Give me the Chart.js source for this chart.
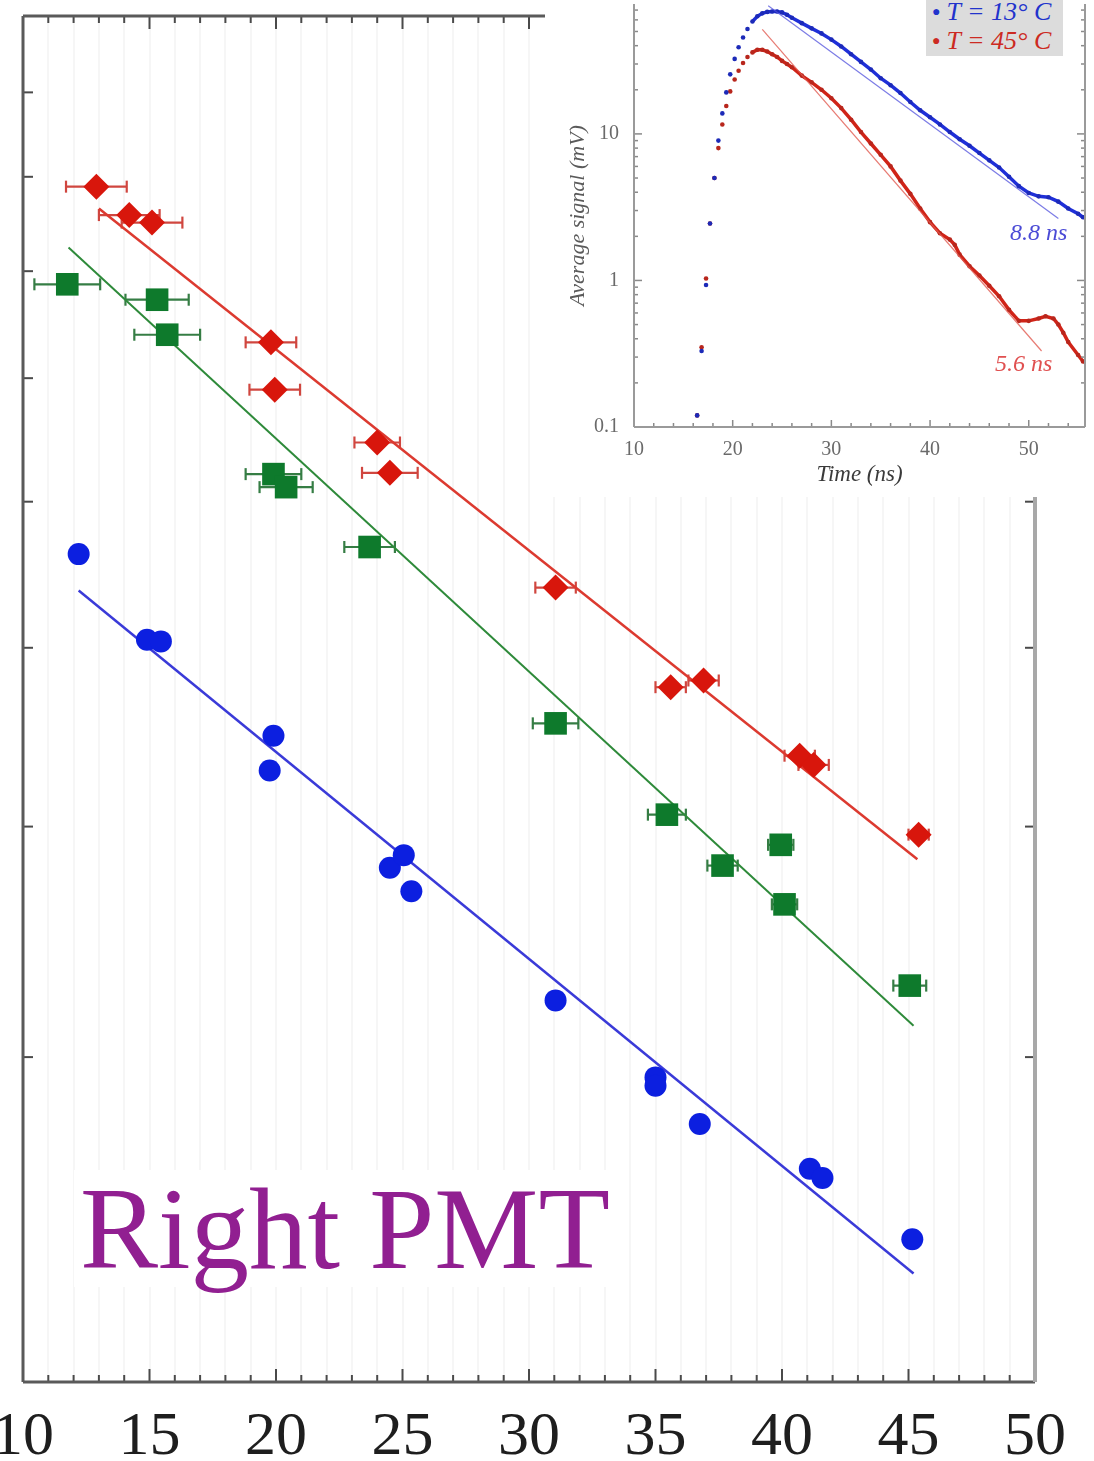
<!DOCTYPE html>
<html>
<head>
<meta charset="utf-8">
<script src="https://cdn.jsdelivr.net/npm/chart.js@4.4.1/dist/chart.umd.min.js"></script>
<style>
  html, body { margin: 0; padding: 0; background: #fff; }
  #wrap { position: relative; width: 1094px; height: 1461px; overflow: hidden; background: #fff; }
  #main { position: absolute; left: 0; top: 0; }
  #inset { position: absolute; left: 545px; top: 0; background: #fff; }
  #tag {
    position: absolute; left: 74px; top: 1170px;
    font-family: "Liberation Serif", serif; font-size: 117px; line-height: 117px;
    color: #911f91; background: #fff; padding: 0 6px; white-space: nowrap;
  }
  #legend {
    position: absolute; left: 926px; top: 0; width: 137px; height: 56px;
    background: #dcdcdc; font-family: "Liberation Serif", serif; font-style: italic;
    font-size: 26px; line-height: 28px;
  }
  #legend div { position: absolute; left: 6px; white-space: nowrap; }
  #legend .dot { font-style: normal; font-size: 14px; vertical-align: 4px; margin-right: 6px; }
  .note { position: absolute; font-family: "Liberation Serif", serif; font-style: italic; font-size: 24px; white-space: nowrap; }
</style>
</head>
<body>
<div id="wrap">
  <canvas id="main" width="1094" height="1461"></canvas>
  <div id="tag">Right PMT</div>
  <canvas id="inset" width="549" height="497"></canvas>
  <div id="legend">
    <div style="top:-2px;color:#2233cc"><span class="dot">&#9679;</span>T = 13° C</div>
    <div style="top:27px;color:#cc2a22"><span class="dot">&#9679;</span>T = 45° C</div>
  </div>
  <div class="note" style="left:1010px;top:219px;color:#4a4ad6">8.8 ns</div>
  <div class="note" style="left:995px;top:350px;color:#e05050">5.6 ns</div>
</div>
<script>
// ---- main plot: decay time vs temperature ----
const redX = [12.9, 14.2, 15.1, 19.8, 19.95, 24.0, 24.5, 31.05, 35.6, 36.9, 40.7, 41.25, 45.4];
const redY = [8.89, 8.58, 8.50, 7.32, 6.90, 6.46, 6.22, 5.39, 4.76, 4.80, 4.37, 4.32, 3.96];
const redXErr = [1.2, 1.2, 1.2, 1.0, 1.0, 0.9, 1.1, 0.8, 0.6, 0.6, 0.6, 0.6, 0.4];

const greenX = [11.75, 15.3, 15.7, 19.9, 20.4, 23.7, 31.05, 35.45, 37.65, 39.95, 40.1, 45.05];
const greenY = [7.87, 7.72, 7.39, 6.21, 6.11, 5.67, 4.55, 4.06, 3.81, 3.91, 3.63, 3.28];
const greenXErr = [1.3, 1.25, 1.3, 1.1, 1.05, 1.0, 0.9, 0.75, 0.6, 0.5, 0.5, 0.65];

const blueX = [12.2, 14.9, 15.45, 19.9, 19.75, 24.5, 25.05, 25.35, 31.05, 35.0, 35.0, 36.75, 41.1, 41.6, 45.15];
const blueY = [5.62, 5.05, 5.04, 4.48, 4.29, 3.80, 3.86, 3.69, 3.22, 2.925, 2.895, 2.76, 2.61, 2.58, 2.39];

// straight-line fits (exponential on the log axis)
const redFitX = [13.0, 45.35];
const redFitY = [8.65, 3.84];
const greenFitX = [11.8, 45.2];
const greenFitY = [8.24, 3.12];
const blueFitX = [12.2, 45.2];
const blueFitY = [5.37, 2.29];

const xTickLabels = [10, 15, 20, 25, 30, 35, 40, 45, 50];
const yTickValues = [3, 4, 5, 6, 7, 8, 9, 10];

// ---- inset: average pulse shape ----
const t13 = [16.4, 16.85, 17.3, 17.7, 18.15, 18.55, 18.95, 19.35, 19.75, 20.2, 20.6, 21.05, 21.5, 22.0, 22.5, 23.0,
  23.5, 24, 24.5, 25, 25.5, 26, 27, 28, 29, 30, 31, 32, 33, 34, 35, 36, 37, 38, 39, 40, 41, 42, 43, 44, 45,
  46, 47, 48, 49, 50, 51, 52, 53, 54, 55, 55.5];
const v13 = [0.12, 0.33, 0.93, 2.45, 5.0, 9.0, 13.8, 19.2, 25.5, 32.5, 39, 45.5, 52, 58.5, 63.5, 66.5,
  68, 68.5, 68.5, 67.5, 65, 62, 57, 52.5, 48.5, 44, 39.5, 35, 31, 27.5, 24, 21.5, 19, 16.5, 14.5, 13, 11.6, 10.3, 9.2, 8.3, 7.4,
  6.6, 5.9, 5.1, 4.4, 3.95, 3.75, 3.7, 3.45, 3.1, 2.85, 2.7];

const t45 = [16.4, 16.85, 17.3, 17.7, 18.15, 18.55, 18.95, 19.35, 19.75, 20.2, 20.6, 21.05, 21.5, 22.0, 22.5, 23.0,
  23.5, 24, 24.5, 25, 25.5, 26, 27, 28, 29, 30, 31, 32, 33, 34, 35, 36, 37, 38, 39, 40, 41, 42, 42.5, 43, 44, 45,
  46, 47, 48, 49, 50, 51, 51.7, 52.5, 53, 53.5, 54, 55, 55.5];
const v45 = [0.12, 0.35, 1.03, 2.45, 5.0, 8.0, 11.6, 15.5, 19.5, 23.5, 27, 30.5, 33.5, 36, 37.5, 37.5,
  36.5, 35, 33.5, 31.5, 30, 28.5, 25, 22.5, 20, 17.5, 15, 12.5, 10.3, 8.6, 7.2, 6.0, 4.8, 3.9, 3.1, 2.5, 2.1, 1.9, 1.75, 1.5, 1.25, 1.08,
  0.92, 0.78, 0.63, 0.53, 0.53, 0.55, 0.57, 0.55, 0.5, 0.44, 0.38, 0.31, 0.28];

// fitted decay constants (ns) and where each fit line is drawn
const tau13 = 8.8, tau45 = 5.6;
const fit13 = { tStart: 23.6, tEnd: 53.0, vEnd: 2.65 };
const fit45 = { tStart: 23.0, tEnd: 51.3, vEnd: 0.33 };

const insetXTicks = [10, 20, 30, 40, 50];
const insetYTicks = [0.1, 1, 10];

const RED = '#d8160c', GREEN = '#0e7a2c', BLUE = '#0c1fe0';
const serif = '"Liberation Serif", "Times New Roman", serif';

const pts = (xs, ys) => xs.map((x, i) => ({ x, y: ys[i] }));

function fitLine(f, tau) {
  const vStart = f.vEnd * Math.exp((f.tEnd - f.tStart) / tau);
  return [{ x: f.tStart, y: vStart }, { x: f.tEnd, y: f.vEnd }];
}

function line(ctx, x0, y0, x1, y1) {
  ctx.beginPath();
  ctx.moveTo(x0, y0);
  ctx.lineTo(x1, y1);
  ctx.stroke();
}

const errorBars = {
  id: 'errorBars',
  beforeDatasetsDraw(chart) {
    const { ctx, scales: { x, y } } = chart;
    ctx.save();
    chart.data.datasets.forEach(ds => {
      if (!ds.xErr) return;
      ctx.strokeStyle = ds.errColor;
      ctx.lineWidth = 2.2;
      ds.data.forEach((p, i) => {
        const x0 = x.getPixelForValue(p.x - ds.xErr[i]);
        const x1 = x.getPixelForValue(p.x + ds.xErr[i]);
        const py = y.getPixelForValue(p.y);
        line(ctx, x0, py, x1, py);
        line(ctx, x0, py - 6, x0, py + 6);
        line(ctx, x1, py - 6, x1, py + 6);
      });
    });
    ctx.restore();
  }
};

const mainFrame = {
  id: 'mainFrame',
  afterDraw(chart) {
    const { ctx, chartArea: a, scales: { x, y } } = chart;
    ctx.save();
    ctx.strokeStyle = '#4a4a4a';
    ctx.lineWidth = 2;
    for (let v = x.min; v <= x.max; v++) {
      const px = x.getPixelForValue(v);
      const len = v % 5 === 0 ? 13 : 7;
      line(ctx, px, a.bottom, px, a.bottom - len);
      line(ctx, px, a.top, px, a.top + len);
    }
    yTickValues.forEach(v => {
      const py = y.getPixelForValue(v);
      line(ctx, a.left, py, a.left + 10, py);
      line(ctx, a.right, py, a.right - 10, py);
    });
    ctx.strokeStyle = '#5a5a5a';
    ctx.lineWidth = 3;
    line(ctx, a.left, a.top, a.right, a.top);
    line(ctx, a.left, a.top, a.left, a.bottom);
    line(ctx, a.left, a.bottom, a.right, a.bottom);
    ctx.strokeStyle = '#a8a8a8';
    ctx.lineWidth = 4;
    line(ctx, a.right, a.top, a.right, a.bottom);
    ctx.restore();
  }
};

new Chart(document.getElementById('main'), {
  type: 'scatter',
  data: {
    datasets: [
      { label: 'red', data: pts(redX, redY), xErr: redXErr, errColor: '#d0463f',
        pointStyle: 'rectRot', pointRadius: 13, backgroundColor: RED, borderColor: RED, borderWidth: 0, order: 1 },
      { label: 'green', data: pts(greenX, greenY), xErr: greenXErr, errColor: '#357d44',
        pointStyle: 'rect', pointRadius: 16, backgroundColor: GREEN, borderColor: GREEN, borderWidth: 0, order: 1 },
      { label: 'blue', data: pts(blueX, blueY),
        pointStyle: 'circle', pointRadius: 11, backgroundColor: BLUE, borderColor: BLUE, borderWidth: 0, order: 1 },
      { label: 'red fit', data: pts(redFitX, redFitY), showLine: true, pointRadius: 0,
        borderColor: '#dc3a30', borderWidth: 2.5, order: 2 },
      { label: 'green fit', data: pts(greenFitX, greenFitY), showLine: true, pointRadius: 0,
        borderColor: '#2e8a3a', borderWidth: 2, order: 2 },
      { label: 'blue fit', data: pts(blueFitX, blueFitY), showLine: true, pointRadius: 0,
        borderColor: '#3a3ad8', borderWidth: 2.5, order: 2 }
    ]
  },
  options: {
    responsive: false,
    animation: false,
    devicePixelRatio: 1,
    layout: { padding: { left: 23, top: 15, right: 59, bottom: 0 } },
    plugins: { legend: { display: false }, tooltip: { enabled: false } },
    scales: {
      x: {
        type: 'linear', min: 10, max: 50,
        grid: { color: 'rgba(0,0,0,0.035)', lineWidth: 2, drawTicks: false },
        border: { display: false },
        ticks: {
          stepSize: 1, autoSkip: false, maxRotation: 0, padding: 19,
          color: '#1e1e1e', font: { family: serif, size: 62 },
          callback: v => xTickLabels.includes(v) ? String(v) : ''
        },
        afterFit: s => { s.height = 79; s.paddingLeft = 0; s.paddingRight = 0; }
      },
      y: { type: 'logarithmic', min: 2, max: 11, display: false }
    }
  },
  plugins: [errorBars, mainFrame]
});

// ---- inset chart ----
const insetFrame = {
  id: 'insetFrame',
  afterDraw(chart) {
    const { ctx, chartArea: a, scales: { x, y } } = chart;
    ctx.save();
    ctx.strokeStyle = '#8a8a8a';
    ctx.lineWidth = 1.5;
    for (let v = 10; v <= x.max; v += 2) {
      const px = x.getPixelForValue(v);
      line(ctx, px, a.bottom, px, a.bottom - (v % 10 === 0 ? 7 : 4));
    }
    [0.1, 1, 10].forEach(dec => {
      for (let m = 1; m <= 9; m++) {
        const v = dec * m;
        if (v > y.max) break;
        const py = y.getPixelForValue(v);
        const len = m === 1 ? 8 : 4;
        line(ctx, a.left, py, a.left + len, py);
        line(ctx, a.right, py, a.right - len, py);
      }
    });
    ctx.lineWidth = 2;
    ctx.strokeStyle = '#9a9a9a';
    line(ctx, a.left, a.top, a.left, a.bottom);
    line(ctx, a.left, a.bottom, a.right, a.bottom);
    line(ctx, a.right, a.top, a.right, a.bottom);
    ctx.restore();
  }
};

new Chart(document.getElementById('inset'), {
  type: 'scatter',
  data: {
    datasets: [
      { label: 'T = 13° C', data: pts(t13, v13), showLine: true, borderWidth: 3.5,
        borderColor: '#1f2fd8', backgroundColor: '#1c2ab8', pointRadius: 2.3, pointBorderWidth: 0,
        segment: { borderColor: c => c.p0.parsed.x < 21.9 ? 'transparent' : undefined }, order: 1 },
      { label: 'T = 45° C', data: pts(t45, v45), showLine: true, borderWidth: 3.5,
        borderColor: '#d02418', backgroundColor: '#b8261c', pointRadius: 2.3, pointBorderWidth: 0,
        segment: { borderColor: c => c.p0.parsed.x < 21.9 ? 'transparent' : undefined }, order: 2 },
      { label: 'fit 13', data: fitLine(fit13, tau13), showLine: true, pointRadius: 0,
        borderColor: 'rgba(80,80,220,0.75)', borderWidth: 1.2, order: 0 },
      { label: 'fit 45', data: fitLine(fit45, tau45), showLine: true, pointRadius: 0,
        borderColor: 'rgba(225,90,80,0.8)', borderWidth: 1.2, order: 0 }
    ]
  },
  options: {
    responsive: false,
    animation: false,
    devicePixelRatio: 1,
    layout: { padding: { left: 0, top: 0, right: 9, bottom: 0 } },
    plugins: { legend: { display: false }, tooltip: { enabled: false } },
    scales: {
      x: {
        type: 'linear', min: 10, max: 55.7,
        grid: { display: false }, border: { display: false },
        afterBuildTicks: s => { s.ticks = insetXTicks.map(v => ({ value: v })); },
        ticks: { padding: 3, color: '#6a6a6a', font: { family: serif, size: 20 }, callback: v => String(v) },
        title: { display: true, text: 'Time (ns)', color: '#3a3a3a',
          font: { family: serif, size: 23, style: 'italic' }, padding: { top: 0, bottom: 8 } },
        afterFit: s => { s.height = 70; s.paddingLeft = 0; s.paddingRight = 0; }
      },
      y: {
        type: 'logarithmic', min: 0.1, max: 77,
        grid: { display: false }, border: { display: false },
        afterBuildTicks: s => { s.ticks = insetYTicks.map(v => ({ value: v })); },
        ticks: { padding: 7, color: '#6a6a6a', font: { family: serif, size: 20 }, callback: v => String(v) },
        title: { display: true, text: 'Average signal (mV)', color: '#5a5a5a',
          font: { family: serif, size: 22, style: 'italic' }, padding: { top: 20, bottom: 0 } },
        afterFit: s => { s.width = 89; s.paddingTop = 0; s.paddingBottom = 0; }
      }
    }
  },
  plugins: [insetFrame]
});
</script>
</body>
</html>
